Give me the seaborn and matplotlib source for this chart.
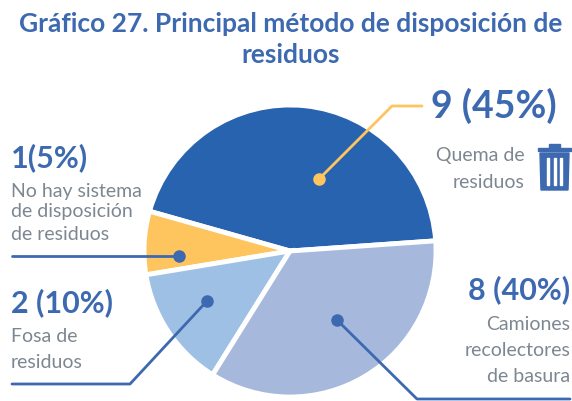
import matplotlib
matplotlib.use('Agg')
import matplotlib.pyplot as plt
import matplotlib.patches as mpatches
import seaborn as sns

# shares (the drawing is not quite proportional to the labels)
methods = ['Quema de residuos', 'No hay sistema', 'Fosa de residuos', 'Camiones']
slice_shares = [44.5, 7, 13.5, 35]
slice_colors = ['#2763ae', '#fec55f', '#9fc0e5', '#a6b9dc']
explode = [0, 0, 0, 0.02]

sns.set_theme(style="white")
plt.rcParams['font.family'] = ['Lato', 'DejaVu Sans']

blue = '#3d69b0'
gray = '#7d8791'
orange = '#fec55f'

fig = plt.figure(figsize=(5.72, 4.01), dpi=100)
ax = fig.add_axes([0, 0, 1, 1])

# y axis is flipped below, so the pie runs clockwise here to read counterclockwise
ax.pie(slice_shares, colors=slice_colors, startangle=-4, counterclock=False,
       center=(290, 251), radius=146, explode=explode,
       wedgeprops={'edgecolor': 'white', 'linewidth': 3.5})
ax.set_xlim(0, 572)
ax.set_ylim(401, 0)
ax.set_aspect('equal')
ax.axis('off')

# Title
ax.text(291, 24, 'Gráfico 27. Principal método de disposición de', color=blue,
        fontsize=19, fontweight='bold', ha='center', va='center')
ax.text(291, 55, 'residuos', color=blue, fontsize=19, fontweight='bold',
        ha='center', va='center')

# Leader lines
ax.plot([319, 392, 422], [179, 106, 106], color=orange, lw=2, zorder=5)
ax.plot([319], [179], 'o', color=orange, ms=8, zorder=6)
ax.plot([12, 179], [256, 256], color=blue, lw=2, zorder=5)
ax.plot([179], [256], 'o', color=blue, ms=8, zorder=6)
ax.plot([12, 130, 207], [384, 384, 301], color=blue, lw=2, zorder=5)
ax.plot([207], [301], 'o', color=blue, ms=8, zorder=6)
ax.plot([337, 417, 570], [320, 399, 399], color=blue, lw=2, zorder=5)
ax.plot([337], [320], 'o', color=blue, ms=8, zorder=6)

# Big numbers
ax.text(431, 106, '9 (45%)', color=blue, fontsize=27, fontweight='bold', va='center')
ax.text(11, 158, '1(5%)', color=blue, fontsize=22, fontweight='bold', va='center')
ax.text(11, 303, '2 (10%)', color=blue, fontsize=22, fontweight='bold', va='center')
ax.text(570, 290, '8 (40%)', color=blue, fontsize=22, fontweight='bold', ha='right', va='center')

# Descriptions
ax.text(525, 156, 'Quema de', color=gray, fontsize=14, ha='right', va='center')
ax.text(525, 183, 'residuos', color=gray, fontsize=14, ha='right', va='center')
for y, s in zip([191, 212, 234], ['No hay sistema', 'de disposición', 'de residuos']):
    ax.text(11, y, s, color=gray, fontsize=14, va='center')
for y, s in zip([336, 363], ['Fosa de', 'residuos']):
    ax.text(11, y, s, color=gray, fontsize=14, va='center')
for y, s in zip([325, 351, 377], ['Camiones', 'recolectores', 'de basura']):
    ax.text(570, y, s, color=gray, fontsize=14, ha='right', va='center')

# Trash can icon
ax.add_patch(mpatches.Rectangle((538, 148), 33, 3, color=blue, zorder=5))
ax.add_patch(mpatches.Rectangle((549, 144), 11, 4, color=blue, zorder=5))
ax.add_patch(mpatches.Polygon([[540, 153], [569, 153], [568, 190], [541, 190]], color=blue, zorder=5))
for x in [547, 553.5, 560]:
    ax.add_patch(mpatches.Rectangle((x, 158), 2, 27, color='white', zorder=6))

fig.savefig('out.png', dpi=100)
